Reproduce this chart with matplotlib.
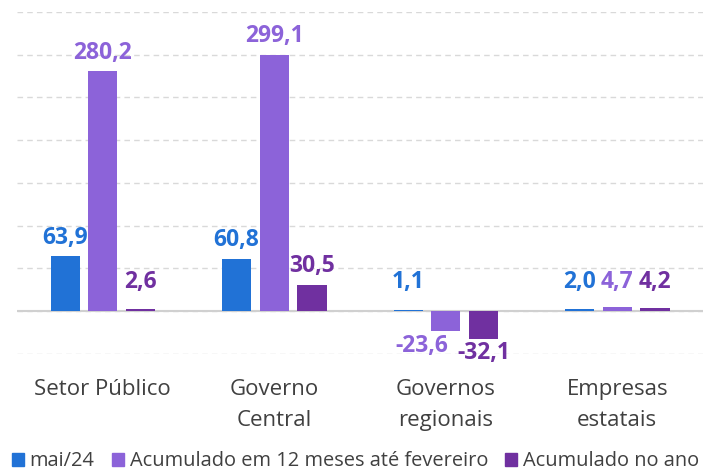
"""Resultado primário por esfera de governo - barras agrupadas"""

import numpy as np
import matplotlib.pyplot as plt
from matplotlib.patches import Patch

categories = ["Setor Público", "Governo\nCentral", "Governos\nregionais", "Empresas\nestatais"]
series_names = ["mai/24", "Acumulado em 12 meses até fevereiro", "Acumulado no ano"]
mai24 = [63.9, 60.8, 1.1, 2.0]
acum12 = [280.2, 299.1, -23.6, 4.7]
acum_ano = [2.6, 30.5, -32.1, 4.2]

colors = ["#2172d6", "#8c63d9", "#7030a0"]


def fmt(v):
    return f"{v:.1f}".replace(".", ",")


def main():
    plt.rcParams['font.family'] = ['Open Sans', 'DejaVu Sans']

    fig = plt.figure(figsize=(7.13, 4.70), dpi=100)
    ax = fig.add_axes([0.024, 0.247, 0.962, 0.728])

    x = np.arange(len(categories))
    width = 0.17
    step = 0.22

    for i, (vals, col) in enumerate(zip([mai24, acum12, acum_ano], colors)):
        pos = x + (i - 1) * step
        ax.bar(pos, vals, width=width, color=col, zorder=3)
        for p, v in zip(pos, vals):
            if v >= 0:
                ax.annotate(fmt(v), (p, max(v, 12)), xytext=(0, 5), textcoords='offset points',
                            ha='center', va='bottom', color=col, fontsize=16.5, fontweight='bold')
            else:
                # negative labels sit below the bars; the first one is nudged left to avoid overlap
                dx = -17 if i == 1 else 0
                ax.annotate(fmt(v), (p, v), xytext=(dx, -2), textcoords='offset points',
                            ha='center', va='top', color=col, fontsize=16.5, fontweight='bold')

    ax.set_xlim(-0.5, 3.5)
    ax.set_ylim(-50, 350)
    ax.set_yticks(np.arange(-50, 351, 50))
    ax.yaxis.grid(True, linestyle=(0, (4, 3)), color='#d9d9d9', linewidth=1, zorder=0)
    ax.axhline(0, color='#d0d0d0', linewidth=1.5, zorder=2)
    ax.tick_params(left=False, labelleft=False, bottom=False, labelbottom=False)
    for s in ax.spines.values():
        s.set_visible(False)

    for xi, cat in zip(x, categories):
        ax.text(xi, -79, cat, ha='center', va='top', fontsize=16, color='#404040',
                linespacing=1.62)

    handles = [Patch(color=c) for c in colors]
    fig.legend(handles, series_names, loc='lower left', bbox_to_anchor=(-0.006, -0.037),
               ncol=3, frameon=False, fontsize=14.4, handlelength=0.6, handleheight=0.6,
               handletextpad=0.3, columnspacing=0.85, labelcolor='#404040', borderpad=0.3)

    fig.savefig('out.png', dpi=100)


if __name__ == "__main__":
    main()
